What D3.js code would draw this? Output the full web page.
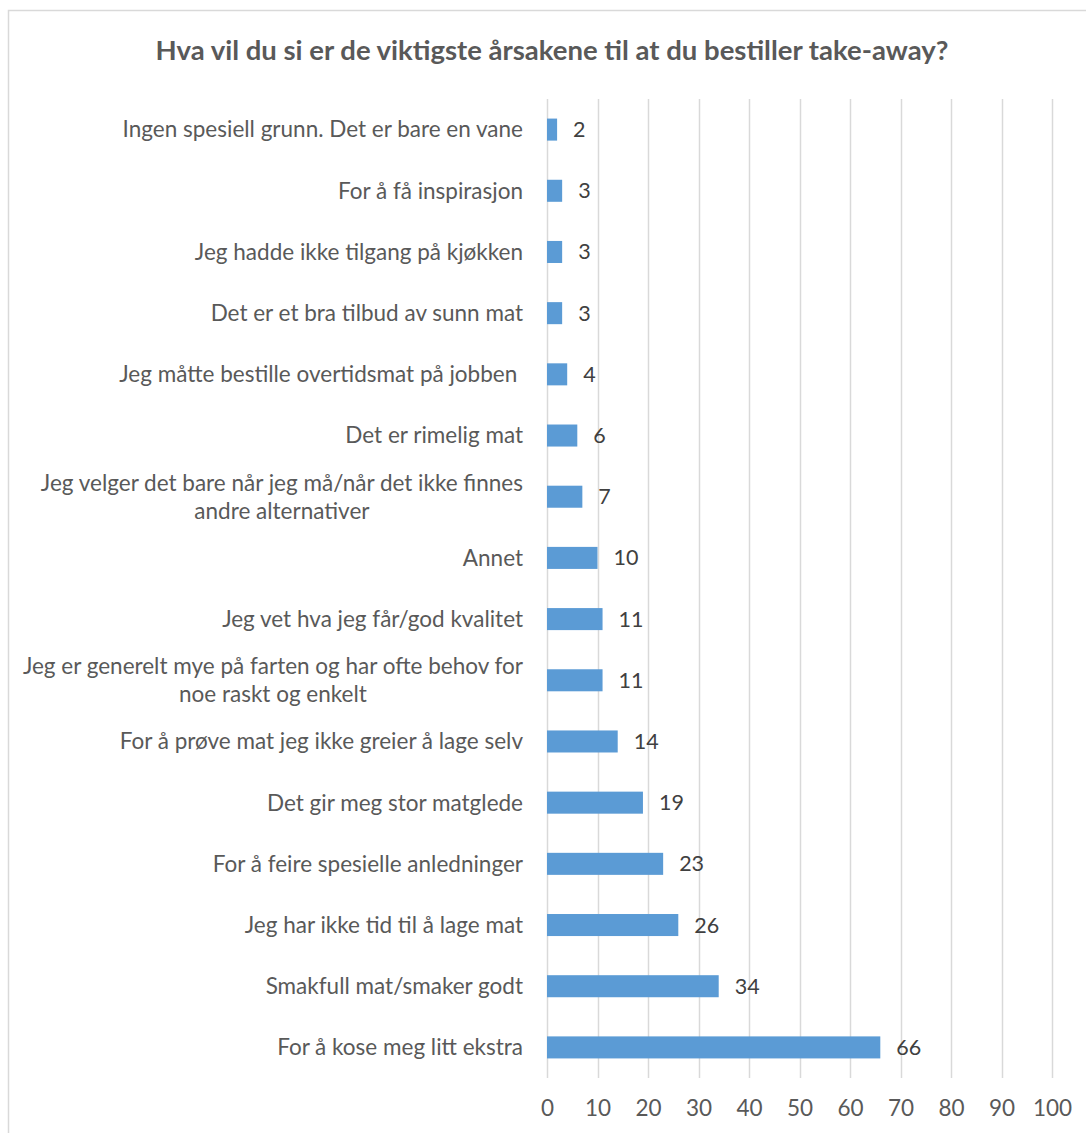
<!DOCTYPE html>
<html>
<head>
<meta charset="utf-8">
<script src="https://cdn.jsdelivr.net/npm/d3@7"></script>
<style>
  html, body { margin: 0; padding: 0; background: #fff; }
  svg { display: block; font-family: Lato, "Open Sans", sans-serif; }
</style>
</head>
<body>
<svg id="chart" width="1086" height="1133"></svg>
<script>
// Survey answers, top to bottom; each entry is a list of label lines
const categories = [
  ["Ingen spesiell grunn. Det er bare en vane"],
  ["For å få inspirasjon"],
  ["Jeg hadde ikke tilgang på kjøkken"],
  ["Det er et bra tilbud av sunn mat"],
  ["Jeg måtte bestille overtidsmat på jobben "],
  ["Det er rimelig mat"],
  ["Jeg velger det bare når jeg må/når det ikke finnes", "andre alternativer"],
  ["Annet"],
  ["Jeg vet hva jeg får/god kvalitet"],
  ["Jeg er generelt mye på farten og har ofte behov for", "noe raskt og enkelt"],
  ["For å prøve mat jeg ikke greier å lage selv"],
  ["Det gir meg stor matglede"],
  ["For å feire spesielle anledninger"],
  ["Jeg har ikke tid til å lage mat"],
  ["Smakfull mat/smaker godt"],
  ["For å kose meg litt ekstra"]
];
const values = [2, 3, 3, 3, 4, 6, 7, 10, 11, 11, 14, 19, 23, 26, 34, 66];
const tickValues = [0, 10, 20, 30, 40, 50, 60, 70, 80, 90, 100];
const title = "Hva vil du si er de viktigste årsakene til at du bestiller take-away?";

const svg = d3.select("#chart");

// chart frame
svg.append("rect")
  .attr("x", 8.5).attr("y", 10.5)
  .attr("width", 1200).attr("height", 1200)
  .attr("fill", "none").attr("stroke", "#d9d9d9").attr("stroke-width", 1.5);

const plot = { left: 547, right: 1052, top: 99, bottom: 1078 };

const x = d3.scaleLinear().domain([0, 100]).range([plot.left, plot.right]);
const y = d3.scaleBand()
  .domain(d3.range(categories.length))
  .range([plot.top, plot.bottom])
  .paddingInner(0.64).paddingOuter(0.32);

// title
svg.append("text")
  .attr("x", 552).attr("y", 60)
  .attr("text-anchor", "middle")
  .attr("font-size", 27.5).attr("font-weight", "bold")
  .attr("fill", "#595959")
  .text(title);

// vertical gridlines
svg.append("g")
  .selectAll("line")
  .data(tickValues)
  .join("line")
  .attr("x1", d => Math.round(x(d)) + 0.5).attr("x2", d => Math.round(x(d)) + 0.5)
  .attr("y1", plot.top).attr("y2", plot.bottom)
  .attr("stroke", "#d9d9d9").attr("stroke-width", 1.5);

// bottom axis labels
const xAxis = d3.axisBottom(x).tickValues(tickValues).tickSize(0).tickPadding(0);
const gx = svg.append("g")
  .attr("transform", `translate(0, ${plot.bottom + 22})`)
  .call(xAxis);
gx.select(".domain").remove();
gx.selectAll("text")
  .attr("font-family", "Lato, 'Open Sans', sans-serif")
  .attr("font-size", 22.5).attr("fill", "#595959");

// bars
svg.append("g")
  .selectAll("rect")
  .data(values)
  .join("rect")
  .attr("x", x(0))
  .attr("y", (d, i) => y(i))
  .attr("width", d => x(d) - x(0))
  .attr("height", y.bandwidth())
  .attr("fill", "#5b9bd5");

// value labels
svg.append("g")
  .selectAll("text")
  .data(values)
  .join("text")
  .attr("x", d => x(d) + 16)
  .attr("y", (d, i) => y(i) + y.bandwidth() / 2)
  .attr("dy", "0.35em")
  .attr("font-size", 21.5).attr("fill", "#404040")
  .text(d => d);

// category labels: right-aligned block, wrapped lines centred within it
const labelRight = 523;
const lineH = 28;
const lab = svg.append("g");
categories.forEach((lines, i) => {
  const cy = y(i) + y.bandwidth() / 2;
  const g = lab.append("g");
  const texts = lines.map((line, k) =>
    g.append("text")
      .attr("font-size", 22.5).attr("fill", "#595959")
      .attr("y", cy + (k - (lines.length - 1) / 2) * lineH)
      .attr("dy", "0.35em")
      .attr("xml:space", "preserve")
      .text(line));
  const widths = texts.map(t => t.node().getComputedTextLength());
  const w = d3.max(widths);
  texts.forEach(t => t.attr("text-anchor", "middle").attr("x", labelRight - w / 2));
});
</script>
</body>
</html>
